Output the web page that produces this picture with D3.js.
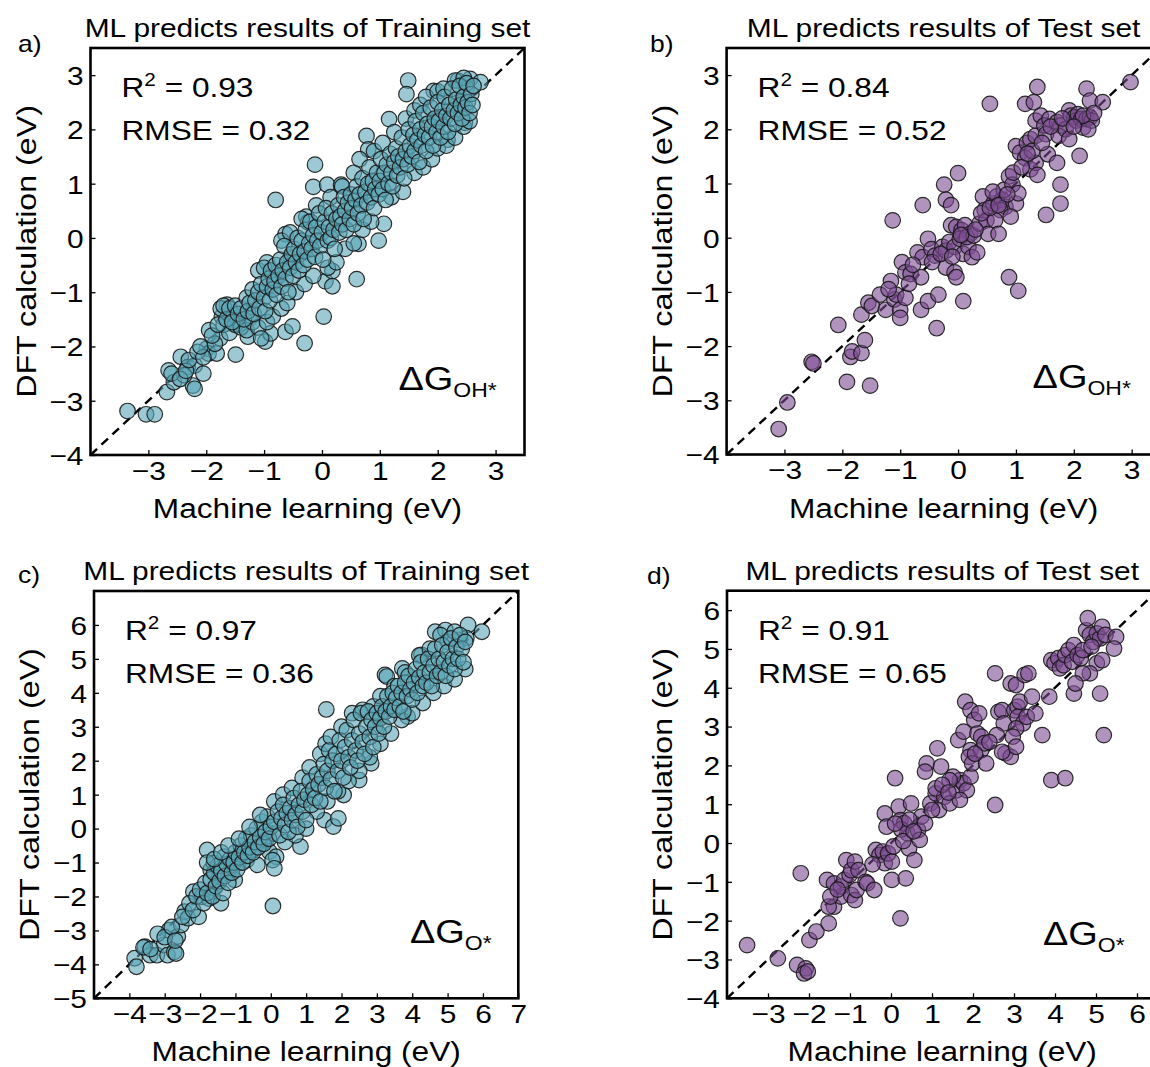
<!DOCTYPE html>
<html>
<head>
<meta charset="utf-8">
<title>ML vs DFT parity plots</title>
<script src="https://d3js.org/d3.v7.min.js"></script>
<style>
  body { margin: 0; background: #fff; }
  svg { display: block; font-family: "Liberation Sans", Arial, sans-serif; }
</style>
</head>
<body>
<div id="chart"></div>
<script>
// ---- data (x = machine learning, y = DFT), eV ----
const trainOH = [
  [-3.36,-3.19],[-3.04,-3.25],[-2.89,-3.25],[-2.68,-2.84],[-2.65,-2.44],[-2.44,-2.19],[-2.32,-2.38],[-2.23,-2.72],
  [-2.2,-2.35],[-2.56,-2.66],[-2.38,-2.53],[-2.05,-2.5],[-2.2,-2.78],[-1.99,-2.04],[-1.96,-2.13],[-1.82,-2.13],
  [-1.76,-1.85],[-1.49,-2.15],[-1.73,-1.45],[-1.64,-1.23],[-1.52,-1.42],[-1.43,-1.6],[-1.28,-1.82],[-1.25,-1.48],
  [-0.98,-1.91],[-0.89,-1.76],[-0.63,-1.73],[-0.51,-1.63],[-0.3,-1.94],[0.03,-1.45],[-0.8,0.7],[-0.63,0.07],
  [-0.54,-0.36],[-0.27,0.39],[-0.24,0.29],[-0.15,0.94],[-0.12,1.35],[0.09,0.98],[0.33,0.98],[0.06,-0.8],
  [0.18,-0.61],[0.18,-0.89],[0.6,-0.76],[0.63,-0.11],[0.98,-0.05],[1.07,0.26],[0.77,1.88],[0.8,1.63],
  [1.16,2.19],[1.49,2.9],[1.46,2.65],[1.93,2.71],[2.02,2.22],[2.17,1.81],[2.35,2.9],[2.56,2.93],
  [2.74,2.87],[2.5,2.75],[2.41,2.5],[2.47,2.12],
  [-2.6,-2.5],[-2.45,-2.6],[-2.35,-2.45],[-2.3,-2.25],[-2.15,-2.1],[-2.05,-2.2],
  [-2.1,-2.0],[-1.95,-1.7],[-1.85,-1.95],[-1.7,-1.6],[-1.6,-1.75],[-1.5,-1.6],[-1.4,-1.65],[-1.3,-1.7],
  [-1.2,-1.55],[-1.1,-1.65],[-1.05,-1.85],[-0.95,-1.55],[-0.85,-1.45],[-0.7,-1.3],[-0.6,-1.2],[-0.45,-1.0],
  [-0.3,-0.85],[-0.15,-0.7],[0.1,-0.55],[0.25,-0.45],[0.4,-0.2],[0.55,-0.1],[0.7,0.15],[0.85,0.3],
  [1.2,0.75],[1.4,0.85],[1.6,1.2],[1.75,1.3],[1.9,1.45],[2.0,1.65],[2.15,1.7],[2.3,1.85],[2.45,2.05],[2.55,2.15],
  [-1.1,-0.6],[-0.95,-0.45],[-0.7,-0.05],[-0.55,0.1],[-0.35,0.35],[-0.1,0.6],[0.15,0.75],[0.35,0.95],
  [0.55,1.2],[0.65,1.45],[0.9,1.6],[1.05,1.75],[1.25,1.95],[1.45,2.2],[1.6,2.35],[1.7,2.45],[1.8,2.6],
  [2.0,2.7],[2.1,2.75],[2.3,2.9],[2.45,2.95],
  [-1.9,-1.8],[-1.8,-1.6],[-1.75,-1.3],[-1.7,-1.25],[-1.65,-1.5],[-1.6,-1.3],[-1.55,-1.55],[-1.5,-1.25],
  [-1.45,-1.4],[-1.4,-1.3],[-1.35,-1.5],[-1.3,-1.1],[-1.28,-1.35],[-1.25,-1.2],[-1.2,-0.95],[-1.18,-1.4],
  [-1.15,-1.15],[-1.1,-1.0],[-1.08,-1.3],[-1.05,-0.85],[-1.0,-1.1],[-1.0,-0.55],[-0.98,-1.35],[-0.95,-0.9],
  [-0.92,-0.75],[-0.9,-1.15],[-0.88,-0.6],[-0.85,-0.95],[-0.82,-0.8],[-0.8,-0.5],[-0.78,-1.05],[-0.75,-0.7],
  [-0.72,-0.4],[-0.7,-0.9],[-0.68,-0.6],[-0.65,-0.15],[-0.63,-0.75],[-0.6,-0.45],[-0.58,-1.0],[-0.55,-0.55],
  [-0.52,-0.3],[-0.5,-0.7],[-0.48,-0.2],[-0.45,-0.45],[-0.42,0.0],[-0.4,-0.6],[-0.38,-0.3],[-0.35,-0.05],
  [-0.32,-0.5],[-0.3,-0.25],[-0.28,0.15],[-0.25,-0.4],[-0.22,-0.1],[-0.2,0.3],[-0.18,-0.2],[-0.15,0.05],
  [-0.12,-0.35],[-0.1,0.2],[-0.08,-0.05],[-0.05,0.45],[-0.03,-0.15],[0.0,0.1],[0.02,-0.4],[0.05,0.3],
  [0.07,0.55],[0.1,-0.05],[0.12,0.2],[0.15,0.0],[0.17,0.45],[0.2,0.15],[0.22,-0.2],[0.25,0.35],
  [0.28,0.6],[0.3,0.1],[0.32,0.4],[0.35,0.25],[0.38,0.75],[0.4,0.5],[0.42,0.15],[0.45,0.65],
  [0.48,0.35],[0.5,0.8],[0.52,0.55],[0.55,0.25],[0.58,0.7],[0.6,0.95],[0.62,0.45],[0.65,0.8],
  [0.68,0.6],[0.7,1.1],[0.72,0.35],[0.75,0.85],[0.78,0.65],[0.8,1.0],[0.82,1.3],[0.85,0.75],
  [0.88,1.05],[0.9,0.55],[0.92,0.9],[0.95,1.2],[0.98,0.8],[1.0,1.05],[1.02,1.45],[1.05,0.9],
  [1.08,1.2],[1.1,0.7],[1.12,1.35],[1.15,1.0],[1.18,1.55],[1.2,1.2],[1.22,0.95],[1.25,1.4],
  [1.28,1.65],[1.3,1.15],[1.32,1.5],[1.35,1.3],[1.38,1.85],[1.4,1.45],[1.42,1.1],[1.45,1.6],
  [1.48,1.35],[1.5,2.0],[1.52,1.7],[1.55,1.5],[1.58,1.9],[1.6,1.6],[1.62,2.15],[1.65,1.8],
  [1.68,1.4],[1.7,2.0],[1.72,1.7],[1.75,2.3],[1.78,1.9],[1.8,1.6],[1.82,2.1],[1.85,1.85],
  [1.88,2.4],[1.9,2.05],[1.92,1.7],[1.95,2.2],[1.98,1.95],[2.0,2.5],[2.02,2.15],[2.05,1.85],
  [2.08,2.35],[2.1,2.05],[2.12,2.6],[2.15,2.25],[2.18,1.95],[2.2,2.45],[2.22,2.2],[2.25,2.75],
  [2.28,2.35],[2.3,2.1],[2.32,2.55],[2.35,2.3],[2.38,2.8],[2.4,2.45],[2.42,2.2],[2.45,2.6],
  [2.48,2.4],[2.5,2.85],[2.52,2.5],[2.55,2.3],[2.58,2.65],[2.6,2.45],[2.62,2.8]
];

const testOH = [
  [-3.1,-3.53],[-2.95,-3.04],[-2.53,-2.29],[-2.5,-2.32],[-2.07,-1.61],[-1.92,-2.66],[-1.86,-2.2],[-1.83,-2.1],
  [-1.67,-2.13],[-1.61,-1.89],[-1.52,-2.73],[-1.67,-1.42],[-1.55,-1.2],[-1.49,-1.26],[-1.25,-1.33],[-1.16,-0.8],
  [-1.13,0.32],[-1.1,-1.14],[-1.0,-1.33],[-1.0,-1.48],[-1.07,-1.05],[-0.91,-1.11],[-0.97,-0.45],[-0.91,-0.64],
  [-0.82,-0.67],[-0.64,-0.73],[-0.7,-0.27],[-0.61,-0.36],[-0.64,-1.33],[-0.52,-1.17],[-0.37,-1.67],[-0.34,-1.05],
  [-0.61,0.6],[-0.52,-0.02],[-0.46,-0.21],[-0.4,-0.33],[-0.24,0.98],[-0.21,0.7],[-0.12,0.6],[-0.27,-0.17],
  [-0.21,-0.24],[-0.15,-0.08],[-0.21,-0.55],[-0.06,-0.64],[0.0,1.19],[-0.03,-0.73],[0.09,-1.17],[-0.12,0.23],
  [-0.03,0.2],[0.06,0.14],[0.12,0.23],[0.21,0.07],[-0.06,-0.17],[0.03,-0.02],[0.09,-0.3],[0.18,-0.17],
  [0.24,-0.36],[0.33,-0.27],[0.15,0.01],[0.27,0.04],[0.37,0.26],[0.43,0.76],[0.46,0.51],[0.49,0.32],
  [0.52,0.07],[0.55,2.47],[0.61,0.63],[0.67,0.76],[0.76,0.7],[0.82,0.57],[0.73,0.51],[0.79,0.88],
  [0.64,0.32],[0.7,0.07],[0.88,-0.73],[1.04,-0.98],[0.88,1.13],[0.94,0.98],[1.0,0.63],[0.91,0.39],
  [1.04,0.82],[1.0,1.69],[1.07,1.57],[1.16,1.47],[1.25,1.26],[1.34,1.38],[1.19,1.75],[1.25,1.82],
  [1.28,1.6],[1.34,1.88],[1.37,1.16],[1.16,2.47],[1.31,2.5],[1.37,2.78],[1.34,2.16],[1.43,2.25],
  [1.49,2.07],[1.52,1.91],[1.58,2.19],[1.55,1.54],[1.52,0.42],[1.71,1.38],[1.71,2.13],[1.77,2.07],
  [1.74,1.88],[1.86,2.0],[1.92,1.82],[1.77,0.98],[1.77,0.63],[1.92,2.35],[1.95,2.25],[2.01,2.22],
  [2.04,2.16],[2.07,2.28],[2.1,1.51],[2.13,2.19],[2.16,2.03],[2.22,2.19],[2.28,2.22],[2.31,2.16],
  [2.25,2.0],[2.16,2.25],[2.22,2.75],[2.28,2.53],[2.5,2.5],[2.98,2.87],
  [-1.35,-1.05],[-1.2,-0.95],[-0.85,-0.85],[-0.78,-0.5],[-0.45,-0.45],[-0.3,-0.3],[-0.1,-0.35],[0.05,0.05],
  [0.3,0.15],[0.4,0.45],[0.55,0.55],[0.6,0.85],[0.7,0.6],[0.85,0.8],[0.95,1.2],[1.1,1.3],[1.2,1.55],
  [1.45,1.75],[1.6,2.05],[1.8,2.2],[2.0,2.05],[2.35,2.3]
];

const trainO = [
  [-3.85,-3.82],[-3.8,-4.07],[-3.56,-3.48],[-3.41,-3.73],[-3.22,-3.73],[-3.02,-3.43],[-2.92,-3.73],[-2.88,-2.99],
  [-2.73,-3.63],[-2.68,-3.68],[-2.63,-3.18],[-2.53,-2.84],[-2.44,-2.45],[-2.34,-2.64],[-2.19,-1.86],[-2.04,-2.6],
  [-1.95,-2.01],[-1.8,-0.63],[-1.75,-2.06],[-1.61,-1.76],[-1.7,-1.22],[-1.41,-2.2],
  [-1.61,-1.02],[-1.46,-1.42],[-1.31,-0.83],[-1.21,-1.32],[-1.12,-1.12],[-1.02,-1.51],[-0.92,-1.02],[-0.82,-0.68],
  [-0.68,-0.93],[-0.53,-0.63],[-0.38,-1.07],[-0.24,-0.43],[-0.14,-0.34],[-0.04,-0.68],[0.06,-0.14],[0.15,-0.83],
  [0.05,-0.93],[0.1,-1.17],[0.06,-2.28],[0.84,-0.53],[1.52,0.25],[1.77,0.06],[1.91,0.3],[1.57,3.51],
  [2.5,1.43],[2.06,0.99],[2.84,1.92],[3.23,4.53],[3.28,4.48],[3.72,4.72],[3.87,3.3],[4.26,5.12],
  [4.65,5.8],[4.94,5.85],[5.58,6.0],[5.97,5.8],[5.33,5.56],[5.53,5.61],
  [-3.6,-3.5],[-3.4,-3.55],[-3.2,-3.1],[-3.0,-3.2],[-2.8,-2.9],[-2.7,-3.3],[-2.5,-2.6],[-2.3,-2.2],
  [-2.2,-2.4],[-2.1,-2.0],[-2.0,-1.8],[-1.9,-2.2],[-1.85,-1.6],[-1.8,-1.9],[-1.7,-1.5],[-1.65,-2.0],
  [-1.6,-1.3],[-1.55,-1.7],[-1.5,-1.1],[-1.45,-1.55],[-1.4,-1.25],[-1.35,-1.9],[-1.3,-1.4],[-1.25,-1.05],
  [-1.2,-1.6],[-1.15,-0.9],[-1.1,-1.3],[-1.05,-1.0],[-1.0,-0.7],[-0.95,-1.2],[-0.9,-0.85],[-0.85,-0.5],
  [-0.8,-1.0],[-0.75,-0.7],[-0.7,-0.3],[-0.65,-0.8],[-0.6,-0.55],[-0.55,-0.2],[-0.5,-0.7],[-0.45,-0.4],
  [-0.4,0.0],[-0.35,-0.55],[-0.3,-0.25],[-0.25,0.2],[-0.2,-0.45],[-0.15,-0.1],[-0.1,0.35],[-0.05,-0.3],[0.0,0.05],
  [-1.8,-1.0],[-1.6,-0.9],[-1.4,-0.7],[-1.2,-0.5],[-0.9,-0.3],[-0.6,0.05],[-0.3,0.4],[0.1,0.8],
  [0.35,1.0],[0.6,1.2],[0.9,1.5],[1.1,1.8],[1.4,2.2],[1.55,2.5],[1.7,2.7],[2.0,3.0],[2.3,3.4],
  [2.6,3.5],[2.9,3.6],[3.1,3.9],[3.5,4.2],[3.8,4.6],[4.2,5.1],[4.5,5.3],[4.8,5.7],[5.0,5.5],[5.2,5.8],
  [0.4,-0.4],[0.7,-0.2],[1.0,0.0],[1.3,0.5],[1.6,0.8],[1.9,1.1],[2.2,1.4],[2.5,1.7],[2.8,2.1],
  [3.1,2.5],[3.4,2.8],[3.7,3.2],[4.0,3.4],[4.3,3.7],[4.6,4.0],[4.9,4.2],[5.2,4.4],[5.5,4.7],
  [0.1,0.2],[0.2,0.5],[0.25,-0.2],[0.3,0.3],[0.35,0.7],[0.4,0.1],[0.45,0.45],[0.5,-0.1],
  [0.55,0.6],[0.6,0.25],[0.65,0.9],[0.7,0.4],[0.75,0.05],[0.8,0.7],[0.85,1.1],[0.9,0.5],
  [0.95,0.85],[1.0,0.25],[1.05,1.0],[1.1,1.4],[1.15,0.7],[1.2,1.15],[1.25,0.9],[1.3,1.6],
  [1.35,1.3],[1.4,0.8],[1.45,1.5],[1.5,1.9],[1.55,1.2],[1.6,1.7],[1.65,2.3],[1.7,1.45],
  [1.75,2.0],[1.8,1.1],[1.85,2.2],[1.9,1.7],[1.95,2.6],[2.0,2.0],[2.05,1.5],[2.1,2.4],
  [2.15,2.9],[2.2,2.1],[2.25,1.8],[2.3,2.6],[2.35,3.2],[2.4,2.3],[2.45,2.0],[2.5,2.8],
  [2.55,3.4],[2.6,2.55],[2.65,2.2],[2.7,3.0],[2.75,3.45],[2.8,2.7],[2.85,3.2],[2.9,2.4],
  [2.95,3.0],[3.0,3.4],[3.05,2.8],[3.1,3.25],[3.15,3.6],[3.2,3.0],[3.25,3.45],[3.3,3.9],
  [3.35,3.3],[3.4,3.6],[3.45,4.0],[3.5,3.5],[3.55,3.85],[3.6,4.2],[3.65,3.6],[3.7,4.0],
  [3.75,3.45],[3.8,4.3],[3.85,3.9],[3.9,4.5],[3.95,4.1],[4.0,3.8],[4.05,4.3],[4.1,4.7],
  [4.15,4.0],[4.2,4.45],[4.25,4.9],[4.3,4.2],[4.35,4.6],[4.4,4.3],[4.45,5.0],[4.5,4.6],
  [4.55,4.2],[4.6,4.8],[4.65,5.3],[4.7,4.5],[4.75,5.0],[4.8,4.6],[4.85,5.4],[4.9,4.9],
  [4.95,4.5],[5.0,5.2],[5.05,4.8],[5.1,5.6],[5.15,5.0],[5.2,4.7],[5.25,5.35],[5.3,5.0],
  [5.35,5.7],[5.4,5.3],[5.45,4.9],[5.5,5.5]
];

const testO = [
  [-3.51,-2.63],[-2.76,-2.97],[-2.29,-3.14],[-2.08,-3.23],[-2.12,-3.36],[-2.03,-3.31],[-1.99,-2.5],[-1.82,-2.28],
  [-2.2,-0.78],[-1.52,-2.07],[-1.56,-0.95],[-1.39,-1.04],[-1.39,-1.64],[-1.22,-1.38],[-1.22,-1.12],[-1.14,-0.95],
  [-1.09,-0.44],[-0.97,-1.34],[-1.01,-0.82],[-0.97,-0.7],[-0.88,-1.47],[-0.84,-1.21],[-0.88,-0.48],[-0.79,-0.7],
  [-0.62,-1.0],[-0.58,-1.04],[-0.41,-1.21],[-0.37,-0.18],[-0.28,-0.31],[-0.2,-0.22],[-0.15,-0.52],[-0.07,-0.27],
  [0.02,-0.48],[0.06,-0.09],[0.02,-0.95],[0.23,-1.94],[0.36,-0.91],[-0.15,0.76],[-0.11,0.42],[0.1,1.67],
  [0.19,0.94],[0.23,0.59],[0.32,0.51],[0.4,0.25],[0.44,-0.14],[0.57,-0.44],[0.49,1.02],[0.66,0.33],
  [0.7,0.08],[0.74,0.68],[0.83,0.51],[0.96,1.02],[1.09,1.28],[1.17,0.85],[1.3,1.19],[1.43,1.02],
  [1.09,1.41],[1.6,1.36],[1.68,1.62],[1.77,1.54],[1.85,1.36],[1.68,1.11],[1.51,1.71],[1.94,1.71],
  [1.43,1.62],[1.64,2.65],[1.77,2.87],[1.94,2.39],[1.9,2.22],[1.98,2.05],[1.81,3.64],[1.94,3.42],
  [2.03,3.17],[2.11,2.82],[2.15,3.34],[2.2,2.74],[2.2,2.39],[2.28,2.57],[2.32,2.05],[0.87,2.05],
  [0.83,1.84],[1.13,2.44],[1.22,1.97],[2.54,4.37],[2.92,4.11],[3.05,4.07],[3.26,4.33],[3.35,4.37],
  [2.62,3.38],[2.71,3.42],[2.75,3.08],[2.58,2.78],[2.79,2.31],[2.92,2.22],[2.71,2.35],[2.54,0.98],
  [3.01,3.42],[3.09,3.51],[3.14,3.64],[3.09,3.25],[3.22,3.08],[3.31,3.25],[3.44,3.77],[3.52,3.34],
  [3.05,2.95],[2.97,2.74],[3.05,2.48],[3.69,2.78],[3.86,3.77],[3.91,4.71],[3.99,4.63],[4.08,4.76],
  [4.12,4.5],[4.21,4.58],[4.25,4.84],[4.33,4.97],[4.42,4.67],[4.46,5.1],[4.55,4.84],[4.63,4.76],
  [4.68,4.97],[4.76,5.48],[4.85,5.36],[4.93,5.18],[5.02,5.4],[5.1,5.27],[5.15,5.57],[5.23,5.36],
  [5.49,5.31],[5.44,5.01],[4.8,5.79],[5.1,3.85],[5.19,2.78],[3.91,1.62],[4.25,1.67],[4.46,3.85],
  [4.89,5.06],[5.02,4.63],[5.15,4.71],[4.85,4.37],[4.68,4.37],[4.5,4.11],
  [-1.52,-1.64],[-1.48,-1.38],[0.25,0.35],[0.1,0.5],[0.45,0.6],[0.3,0.05],[1.0,0.85],[1.25,1.5],
  [1.4,1.3],[2.05,2.3],[2.4,2.6],[0.55,0.3],[-0.45,-0.55],[-1.3,-1.2]
];

// ---- panel layout ----
const panels = [
  { letter: "a)", lx: 18, ly: 52, title: "ML predicts results of Training set", data: trainOH,
    x0: 90.5, y0: 48, w: 434, h: 407, domain: [-4, 3.5],
    xticks: [-3, -2, -1, 0, 1, 2, 3], yticks: [-4, -3, -2, -1, 0, 1, 2, 3],
    r2: "0.93", rmse: "0.32", sub: "OH*", subdx: 308, subdy: -65, fill: "#5aa5b6" },
  { letter: "b)", lx: 650, ly: 52, title: "ML predicts results of Test set", data: testOH,
    x0: 726.6, y0: 48, w: 434, h: 406.5, domain: [-4, 3.5],
    xticks: [-3, -2, -1, 0, 1, 2, 3], yticks: [-4, -3, -2, -1, 0, 1, 2, 3],
    r2: "0.84", rmse: "0.52", sub: "OH*", subdx: 306, subdy: -67, fill: "#7d4d92" },
  { letter: "c)", lx: 18, ly: 583, title: "ML predicts results of Training set", data: trainO,
    x0: 94, y0: 591, w: 424.3, h: 407.3, domain: [-5, 7],
    xticks: [-4, -3, -2, -1, 0, 1, 2, 3, 4, 5, 6, 7], yticks: [-5, -4, -3, -2, -1, 0, 1, 2, 3, 4, 5, 6],
    r2: "0.97", rmse: "0.36", sub: "O*", subdx: 316, subdy: -55, fill: "#5aa5b6" },
  { letter: "d)", lx: 647, ly: 584, title: "ML predicts results of Test set", data: testO,
    x0: 727, y0: 590.7, w: 430.5, h: 407.6, domain: [-4, 6.5],
    xticks: [-3, -2, -1, 0, 1, 2, 3, 4, 5, 6], yticks: [-4, -3, -2, -1, 0, 1, 2, 3, 4, 5, 6],
    r2: "0.91", rmse: "0.65", sub: "O*", subdx: 316, subdy: -53, fill: "#7d4d92" }
];

const width = 1150, height = 1067;
const sx = 1.15; // glyphs in the figure are wider than Arial

const svg = d3.select("#chart").append("svg")
  .attr("width", width)
  .attr("height", height)
  .attr("viewBox", [0, 0, width, height]);

svg.append("rect").attr("width", width).attr("height", height).attr("fill", "#fff");

// stretched text helper
function stext(g, x, y, str, size, anchor) {
  return g.append("text")
    .attr("transform", `translate(${x},${y}) scale(${sx},1)`)
    .attr("text-anchor", anchor || "start")
    .attr("font-size", size)
    .attr("fill", "#000")
    .text(str);
}

panels.forEach(p => {
  const g = svg.append("g");
  const x = d3.scaleLinear().domain(p.domain).range([p.x0, p.x0 + p.w]);
  const y = d3.scaleLinear().domain(p.domain).range([p.y0 + p.h, p.y0]);

  // diagonal y = x
  g.append("line")
    .attr("x1", x(p.domain[0])).attr("y1", y(p.domain[0]))
    .attr("x2", x(p.domain[1])).attr("y2", y(p.domain[1]))
    .attr("stroke", "#000")
    .attr("stroke-width", 2.4)
    .attr("stroke-dasharray", "9,6");

  // points
  g.append("g")
    .selectAll("circle")
    .data(p.data)
    .join("circle")
      .attr("cx", d => x(d[0]))
      .attr("cy", d => y(d[1]))
      .attr("r", 7.8)
      .attr("fill", p.fill)
      .attr("fill-opacity", 0.6)
      .attr("stroke", "#1a1a1a")
      .attr("stroke-opacity", 0.9)
      .attr("stroke-width", 1.2);

  // axes, ticks inward
  const xAxis = g.append("g")
    .attr("transform", `translate(0,${p.y0 + p.h})`)
    .call(d3.axisBottom(x).tickValues(p.xticks).tickSizeInner(-5).tickSizeOuter(0));
  const yAxis = g.append("g")
    .attr("transform", `translate(${p.x0},0)`)
    .call(d3.axisLeft(y).tickValues(p.yticks).tickSizeInner(-5).tickSizeOuter(0));

  [xAxis, yAxis].forEach(ax => {
    ax.select(".domain").remove();
    ax.selectAll(".tick line").attr("stroke", "#000").attr("stroke-width", 1.3);
    ax.selectAll(".tick text")
      .attr("font-family", "Liberation Sans, Arial, sans-serif")
      .attr("font-size", 26)
      .attr("fill", "#000");
  });
  xAxis.selectAll(".tick text")
    .attr("dy", null)
    .attr("y", null)
    .attr("transform", `translate(0,24.5) scale(${sx},1)`);
  yAxis.selectAll(".tick text")
    .attr("x", null)
    .attr("dy", "0.36em")
    .attr("transform", `translate(-7,0) scale(${sx},1)`);

  // frame
  g.append("rect")
    .attr("x", p.x0).attr("y", p.y0)
    .attr("width", p.w).attr("height", p.h)
    .attr("fill", "none")
    .attr("stroke", "#000")
    .attr("stroke-width", 2.6);

  // titles and labels
  stext(g, p.x0 + p.w / 2, p.y0 - 11, p.title, 26, "middle");
  stext(g, p.lx, p.ly, p.letter, 23);
  stext(g, p.x0 + p.w / 2, p.y0 + p.h + 63, "Machine learning (eV)", 27.5, "middle");

  g.append("text")
    .attr("transform", `translate(${p.x0 - 55},${p.y0 + p.h / 2}) rotate(-90) scale(${sx},1)`)
    .attr("text-anchor", "middle")
    .attr("font-size", 28)
    .text("DFT calculation (eV)");

  // R² and RMSE
  const r2 = stext(g, p.x0 + 31, p.y0 + 49, "R", 27.5);
  r2.append("tspan").attr("font-size", 18).attr("dy", -11).text("2");
  r2.append("tspan").attr("dy", 11).text(" = " + p.r2);
  stext(g, p.x0 + 31, p.y0 + 92, "RMSE = " + p.rmse, 27.5);

  // ΔG label
  const dg = stext(g, p.x0 + p.subdx, p.y0 + p.h + p.subdy, "ΔG", 33);
  dg.append("tspan").attr("font-size", 20).attr("dy", 7).text(p.sub);
});
</script>
</body>
</html>
